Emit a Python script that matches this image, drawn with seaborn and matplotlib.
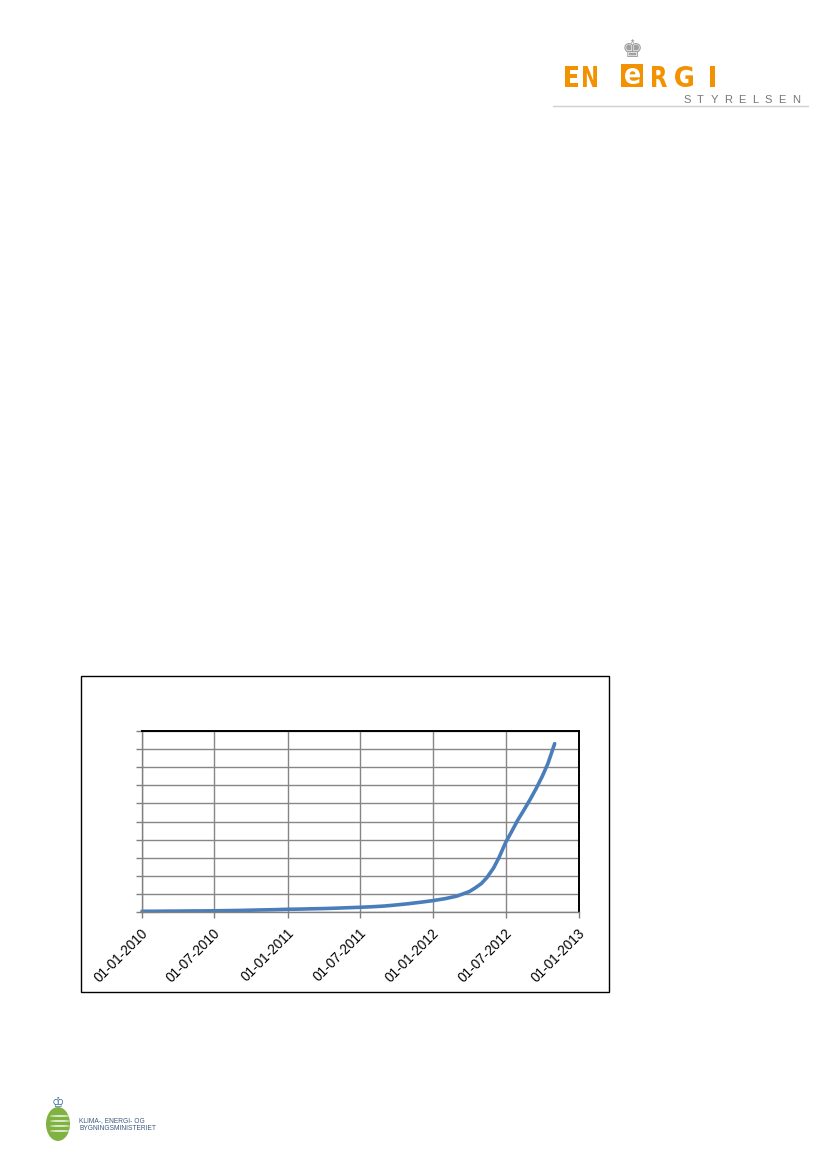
import numpy as np
import pandas as pd
import matplotlib
matplotlib.use("Agg")
import matplotlib.pyplot as plt
from matplotlib.patches import Rectangle, Circle, Ellipse, PathPatch
from matplotlib.textpath import TextPath
from matplotlib.font_manager import FontProperties
from matplotlib.transforms import Affine2D
import seaborn as sns

# ---------------- data ----------------
dates = ["2010-01-01", "2010-02-01", "2010-03-01", "2010-04-01", "2010-05-01", "2010-06-01",
         "2010-07-01", "2010-08-01", "2010-09-01", "2010-10-01", "2010-11-01", "2010-12-01",
         "2011-01-01", "2011-02-01", "2011-03-01", "2011-04-01", "2011-05-01", "2011-06-01",
         "2011-07-01", "2011-08-01", "2011-09-01", "2011-10-01", "2011-11-01", "2011-12-01",
         "2012-01-01", "2012-02-01", "2012-03-01", "2012-04-01", "2012-04-15",
         "2012-05-01", "2012-05-15", "2012-06-01", "2012-06-15", "2012-07-01",
         "2012-07-15", "2012-08-01", "2012-08-15", "2012-09-01", "2012-09-15",
         "2012-10-01", "2012-10-15", "2012-11-01"]
capacity = [2.0, 2.0, 2.3, 2.5, 2.8, 3.0,
            3.3, 3.8, 4.3, 5.0, 5.8, 6.5,
            7.5, 8.0, 8.8, 9.5, 10.5, 11.8,
            13.0, 14.5, 16.5, 19.5, 23.0, 27.0,
            31.5, 37.0, 44.0, 56.5, 66.0,
            78.5, 95.0, 122.0, 152.0, 192.0,
            220.0, 255.0, 280.0, 312.0, 340.0,
            375.0, 410.0, 465.0]
tick_dates = ["2010-01-01", "2010-07-01", "2011-01-01", "2011-07-01",
              "2012-01-01", "2012-07-01", "2013-01-01"]
tick_labels = ["01-01-2010", "01-07-2010", "01-01-2011", "01-07-2011",
               "01-01-2012", "01-07-2012", "01-01-2013"]
y_ticks = list(range(0, 501, 50))

df = pd.DataFrame({"dato": pd.to_datetime(dates), "kapacitet": capacity})
tick_dt = pd.to_datetime(tick_dates)

# ---------------- figure ----------------
sns.set_theme(style="white")
plt.rcParams["font.family"] = ["Liberation Sans", "DejaVu Sans"]

W, H = 827, 1169
fig = plt.figure(figsize=(W / 100, H / 100), dpi=100)
fig.patch.set_facecolor("white")

def fx(x):
    return x / W

def fy(y):
    return 1 - y / H

# chart frame
fig.add_artist(Rectangle((fx(81), fy(992)), fx(609) - fx(81), fy(676) - fy(992),
                         transform=fig.transFigure, fill=False, ec="black", lw=1.0))

ax = fig.add_axes([fx(142), fy(912), fx(579) - fx(142), fy(731) - fy(912)])
ax.set_axisbelow(True)
sns.lineplot(data=df, x="dato", y="kapacitet", ax=ax, color="#4a7ebb",
             linewidth=2.6, clip_on=False)
for ln in ax.get_lines():
    ln.set_solid_joinstyle("round")
    ln.set_solid_capstyle("round")

ax.set_xlim(tick_dt[0], tick_dt[-1])
ax.set_ylim(0, 500)
ax.set_xticks(tick_dt)
ax.set_xticklabels(tick_labels, rotation=45, ha="right", va="top",
                   rotation_mode="anchor", fontsize=9.8, color="black")
ax.set_yticks(y_ticks)
ax.tick_params(axis="y", labelleft=False, left=True, direction="out",
               length=4, width=1, color="#808080")
ax.tick_params(axis="x", bottom=True, direction="out", length=4, width=1,
               color="#808080", pad=4)
for lab in ax.get_xticklabels():
    lab.set_transform(lab.get_transform() + Affine2D().translate(-1, -3))
ax.grid(True, color="#868686", linewidth=1.0)
ax.set_xlabel("")
ax.set_ylabel("")
for side in ["left", "bottom"]:
    ax.spines[side].set_color("#808080")
    ax.spines[side].set_linewidth(1.0)
for side in ["top", "right"]:
    ax.spines[side].set_color("black")
    ax.spines[side].set_linewidth(1.4)
    ax.spines[side].set_visible(True)

# ---------------- top-right logo ----------------
orange = "#f39200"
fp_logo = FontProperties(family=["DejaVu Sans"], weight="bold")

def letter(ch, x0, x1, ytop, ybot, color):
    tp = TextPath((0, 0), ch, size=100, prop=fp_logo)
    ext = tp.get_extents()
    sx = (x1 - x0) / ext.width
    sy = (ybot - ytop) / ext.height
    tr = (Affine2D().translate(-ext.x0, -ext.y0).scale(sx, sy)
          .translate(x0, H - ybot).scale(1 / W, 1 / H))
    path = tr.transform_path(tp)
    fig.add_artist(PathPatch(path, transform=fig.transFigure, fc=color, ec="none"))

letter("E", 565, 578, 66, 87, orange)
letter("N", 583, 597, 66, 87, orange)
letter("R", 652, 667, 66, 87, orange)
letter("G", 675, 693, 66, 87, orange)
letter("I", 710, 715, 66, 87, orange)
# the special "e"
fig.add_artist(Rectangle((fx(621), fy(87)), fx(643) - fx(621), fy(64) - fy(87),
                         transform=fig.transFigure, fc=orange, ec="none"))
letter("e", 625, 640, 68, 84, "white")
# crown
fig.text(fx(632), fy(50), "\u265a", fontsize=17, color="#a0a0a0",
         ha="center", va="center", family="DejaVu Sans")
# STYRELSEN
sty = "STYRELSEN"
for i, ch in enumerate(sty):
    fig.text(fx(687 + i * 13.6), fy(100), ch, fontsize=8, color="#777777",
             ha="center", va="center")
fig.add_artist(plt.Line2D([fx(553), fx(808)], [fy(105.5), fy(105.5)],
                          transform=fig.transFigure, color="#cfcfcf", lw=1.0))

# ---------------- bottom-left logo ----------------
fig.add_artist(Circle((fx(58), fy(1124)), 12 / W, transform=fig.transFigure,
                      fc="#7fb241", ec="none"))
for yy in [1116, 1121, 1126, 1131]:
    fig.add_artist(Ellipse((fx(60), fy(yy)), 20 / W, 1.6 / H,
                           transform=fig.transFigure, fc="white", ec="none", alpha=0.9))
fig.text(fx(58), fy(1103), "\u2654", fontsize=10, color="#3d6a9a",
         ha="center", va="center", family="DejaVu Sans")
fig.text(fx(79), fy(1121), "KLIMA-, ENERGI- OG", fontsize=4.8, color="#3d5a80",
         ha="left", va="center", family=["Liberation Sans Narrow", "Liberation Sans"])
fig.text(fx(79), fy(1129), "BYGNINGSMINISTERIET", fontsize=4.8, color="#3d5a80",
         ha="left", va="center", family=["Liberation Sans Narrow", "Liberation Sans"])

fig.savefig("out.png", dpi=100, facecolor="white")
